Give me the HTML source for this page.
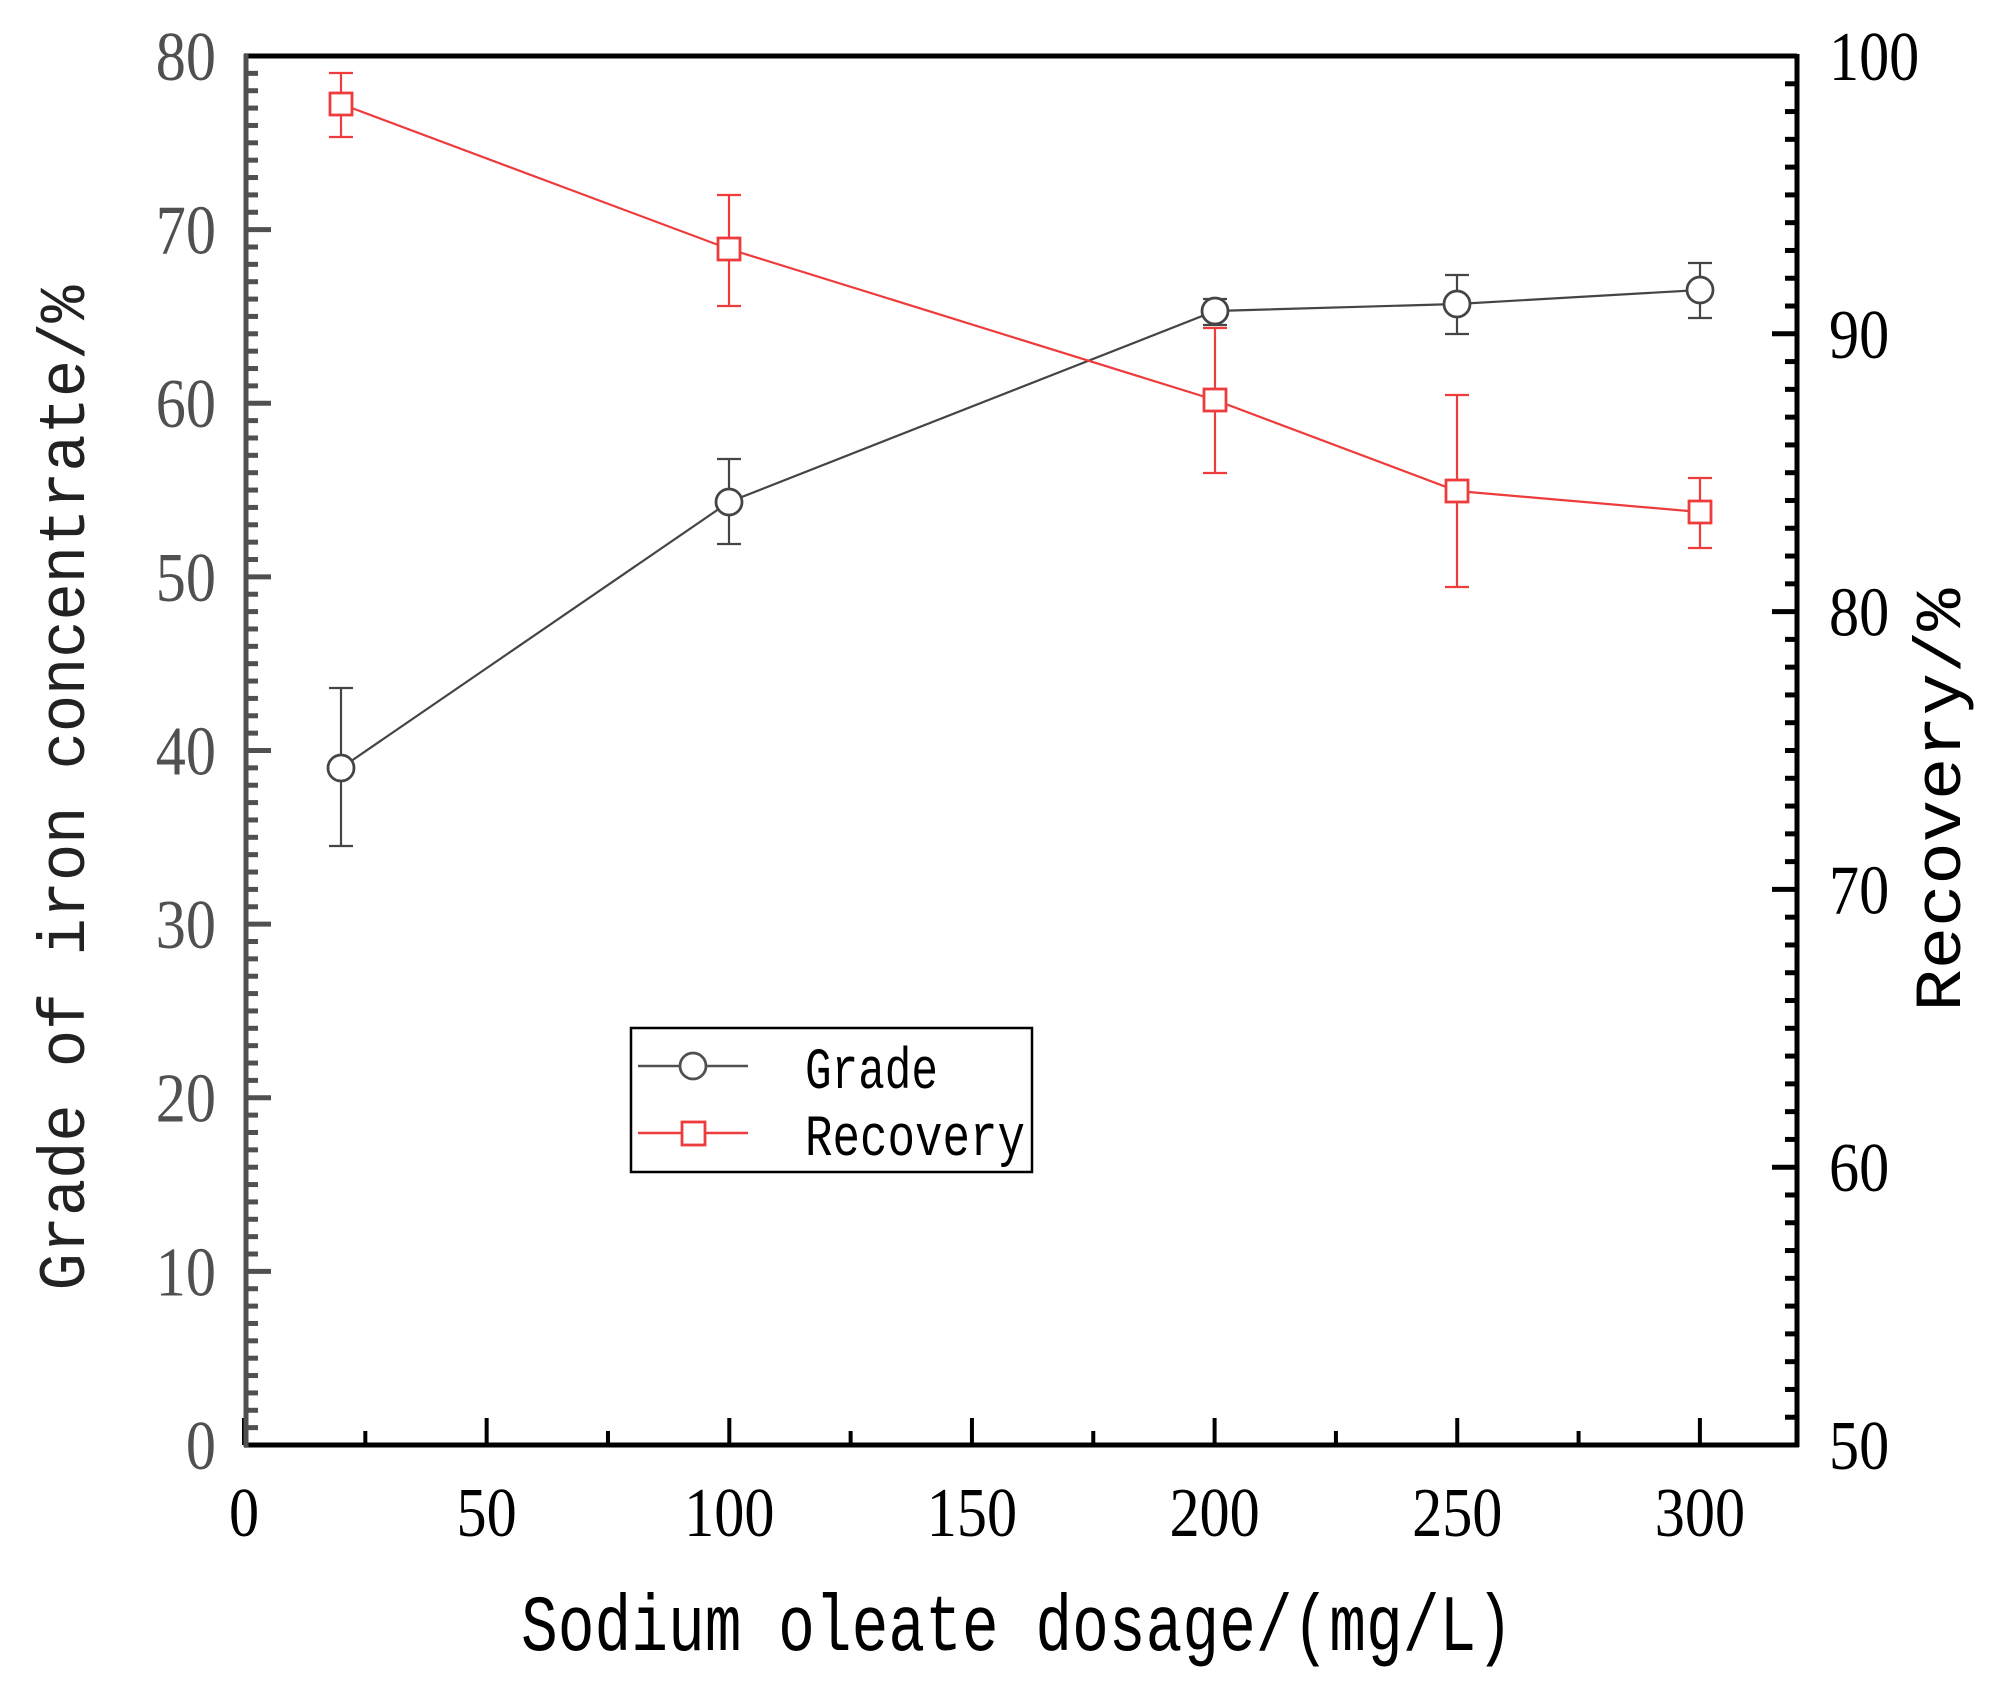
<!DOCTYPE html>
<html><head><meta charset="utf-8"><style>html,body{margin:0;padding:0;background:#fff}svg{display:block}</style></head>
<body>
<svg id="s" width="1994" height="1689" viewBox="0 0 1994 1689" xmlns="http://www.w3.org/2000/svg">
<rect width="1994" height="1689" fill="#fff"/>
<g id="g"></g>
<line x1="244" y1="56" x2="1797" y2="56" stroke="#000" stroke-width="5"/>
<line x1="1797" y1="54" x2="1797" y2="1447" stroke="#000" stroke-width="5"/>
<line x1="244" y1="1445" x2="1799" y2="1445" stroke="#000" stroke-width="5"/>
<line x1="246" y1="54" x2="246" y2="1447" stroke="#505050" stroke-width="5"/>
<g stroke="#454545" stroke-width="2.2" fill="none">
<polyline points="341,768 729,502 1215,311 1457,304 1700,290"/>
<path d="M341,688V846M329,688H353M329,846H353 M729,459V544M717,459H741M717,544H741 M1215,299V325M1203,299H1227M1203,325H1227 M1457,275V334M1445,275H1469M1445,334H1469 M1700,263V318M1688,263H1712M1688,318H1712"/>
<g fill="#fff" stroke-width="2.8">
<circle cx="341" cy="768" r="13"/><circle cx="729" cy="502" r="13"/><circle cx="1215" cy="311" r="13"/><circle cx="1457" cy="304" r="13"/><circle cx="1700" cy="290" r="13"/>
</g></g>
<g stroke="#ee3c3c" stroke-width="2.2" fill="none">
<polyline points="341,104 729,249 1215,400 1457,491 1700,512"/>
<path d="M341,73V137M329,73H353M329,137H353 M729,195V306M717,195H741M717,306H741 M1215,328V473M1203,328H1227M1203,473H1227 M1457,395V587M1445,395H1469M1445,587H1469 M1700,478V548M1688,478H1712M1688,548H1712"/>
<g fill="#fff" stroke-width="2.8">
<rect x="330" y="93" width="22" height="22"/><rect x="718" y="238" width="22" height="22"/><rect x="1204" y="389" width="22" height="22"/><rect x="1446" y="480" width="22" height="22"/><rect x="1689" y="501" width="22" height="22"/>
</g></g>
<rect x="631" y="1028" width="401" height="144" fill="#fff" stroke="#000" stroke-width="2.5"/>
<line x1="638" y1="1066" x2="748" y2="1066" stroke="#505050" stroke-width="2.5"/>
<circle cx="693" cy="1066" r="13" fill="#fff" stroke="#505050" stroke-width="2.8"/>
<line x1="638" y1="1133" x2="748" y2="1133" stroke="#ee3c3c" stroke-width="2.5"/>
<rect x="682" y="1122" width="23" height="23" fill="#fff" stroke="#ee3c3c" stroke-width="2.8"/>
<g font-family="Liberation Mono, monospace" font-size="58" fill="#000">
<text x="805" y="1088" textLength="133" lengthAdjust="spacingAndGlyphs">Grade</text>
<text x="805" y="1155" textLength="220" lengthAdjust="spacingAndGlyphs">Recovery</text>
</g>
<g font-family="Liberation Mono, monospace" fill="#000">
<text x="1017" y="1650" font-size="80" text-anchor="middle" textLength="992" lengthAdjust="spacingAndGlyphs">Sodium oleate dosage/(mg/L)</text>
<text transform="translate(84,788) rotate(-90)" font-size="66" text-anchor="middle" textLength="1005" lengthAdjust="spacingAndGlyphs" fill="#222">Grade of iron concentrate/%</text>
<text transform="translate(1960,800) rotate(-90)" font-size="66" text-anchor="middle" textLength="423" lengthAdjust="spacingAndGlyphs">Recovery/%</text>
</g>
</svg>
<script>
var g=document.getElementById('g'),h='';
function L(x1,y1,x2,y2,c,w){h+='<line x1="'+x1+'" y1="'+y1+'" x2="'+x2+'" y2="'+y2+'" stroke="'+c+'" stroke-width="'+w+'"/>';}
function T(x,y,s,c,a){h+='<text x="'+x+'" y="'+y+'" fill="'+c+'" text-anchor="'+a+'" font-family="Liberation Serif, serif" font-size="70" transform="translate('+x+' 0) scale(0.86 1) translate('+(-x)+' 0)">'+s+'</text>';}
for(var v=0;v<=80;v++){var y=1445-v*17.3625;if(v%10==0){L(246,y,271,y,'#505050',5);T(216,y+24,v,'#505050','end');}else L(246,y,258,y,'#505050',5);}
for(var v=50;v<=100;v++){var y=1445-(v-50)*27.78;if(v%10==0){L(1797,y,1772,y,'#000',5);T(1829,y+24,v,'#000','start');}else L(1797,y,1785,y,'#000',5);}
for(var v=0;v<=320;v+=25){var x=244+v*4.853;if(v%50==0){L(x,1445,x,1418,'#000',4);T(x,1536,v,'#000','middle');}else L(x,1445,x,1431,'#000',4);}
g.innerHTML=h;
</script>
</body></html>
